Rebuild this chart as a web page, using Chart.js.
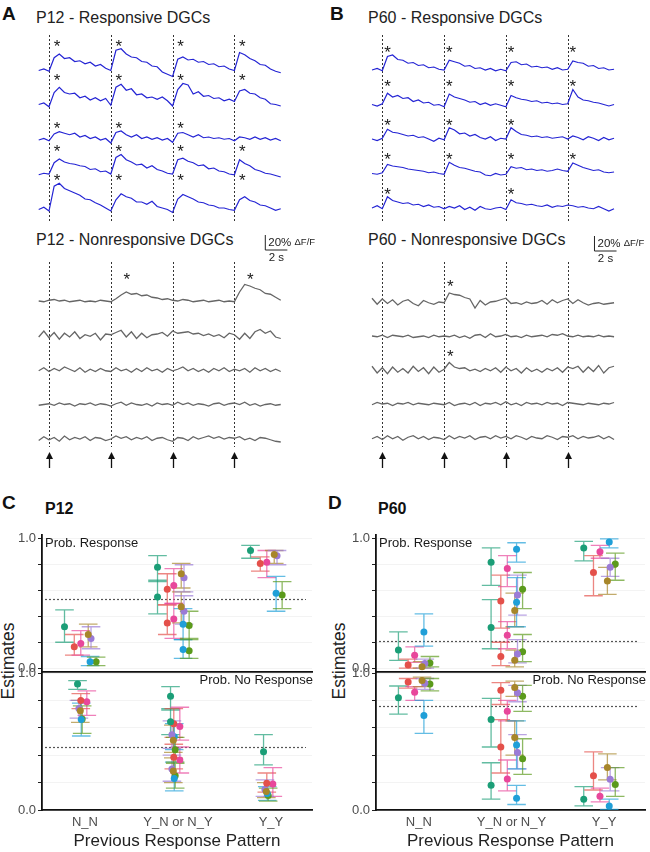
<!DOCTYPE html>
<html>
<head>
<meta charset="utf-8">
<script src="https://cdn.jsdelivr.net/npm/chart.js@4.4.0/dist/chart.umd.min.js"></script>
<style>
  body { margin: 0; background: #fff; font-family: "Liberation Sans", Arial, sans-serif; }
  #fig { position: relative; width: 650px; height: 852px; overflow: hidden; }
  canvas, .t { position: absolute; }
  .t { line-height: 1; white-space: nowrap; color: #222; }
  .lab { font-weight: bold; font-size: 19px; color: #111; }
  .ttl { font-size: 16px; }
  .sub { font-weight: bold; font-size: 16px; color: #111; }
  .ylab { font-size: 17.5px; transform: translate(-50%, -50%) rotate(-90deg); }
</style>
</head>
<body>
<div id="fig">
  <div class="t lab" style="left:2px;top:4px">A</div>
  <div class="t ttl" style="left:36px;top:10px">P12 - Responsive DGCs</div>
  <div class="t lab" style="left:330px;top:4px">B</div>
  <div class="t ttl" style="left:368px;top:10px">P60 - Responsive DGCs</div>
  <div class="t ttl" style="left:36px;top:232px">P12 - Nonresponsive DGCs</div>
  <div class="t ttl" style="left:368px;top:232px">P60 - Nonresponsive DGCs</div>
  <div class="t lab" style="left:2px;top:493px">C</div>
  <div class="t sub" style="left:45px;top:501px">P12</div>
  <div class="t lab" style="left:328px;top:493px">D</div>
  <div class="t sub" style="left:378px;top:501px">P60</div>
  <div class="t ylab" style="left:9px;top:661px">Estimates</div>
  <div class="t ylab" style="left:340px;top:661px">Estimates</div>

  <canvas id="p12Resp" width="262" height="200" style="left:30px;top:28px"></canvas>
  <canvas id="p60Resp" width="262" height="200" style="left:360px;top:28px"></canvas>
  <canvas id="p12Non" width="290" height="250" style="left:30px;top:228px"></canvas>
  <canvas id="p60Non" width="290" height="250" style="left:360px;top:228px"></canvas>

  <canvas id="cUp" width="318" height="161" style="left:0px;top:523px"></canvas>
  <canvas id="cLow" width="318" height="191" style="left:0px;top:661px"></canvas>
  <canvas id="dUp" width="316" height="161" style="left:334px;top:523px"></canvas>
  <canvas id="dLow" width="316" height="191" style="left:334px;top:661px"></canvas>
</div>

<script>
// ---- calcium traces (% dF/F, one value per imaging frame) ----
const stimFrames = [2, 14, 26, 38];
const frameSec = 0.467;

const p12Responsive = [
  [0,2,-1,17,22,16,17,12,13,9,11,6,8,3, 0,27,29,22,18,17,12,11,6,5,-2,-5, -8,15,18,14,15,11,12,8,9,5,6,2, 0,24,21,16,13,8,7,2,-1,-3],
  [1,3,-2,17,24,17,15,16,10,12,7,10,6,9, 0,24,28,20,22,14,15,10,11,8,11,6, -1,21,29,27,15,18,12,13,9,10,6,8, 5,19,21,16,15,10,8,2,1,-1],
  [0,2,-1,8,11,9,7,9,4,6,2,4,0,2, -4,10,12,7,4,7,2,4,1,3,0,2, -3,9,10,7,4,7,3,4,2,3,1,2, -1,4,3,1,4,1,3,0,2,-1],
  [0,2,1,16,21,17,15,14,12,11,7,8,4,5, 1,23,27,20,17,13,14,9,12,7,5,2, 1,20,22,18,16,12,13,8,9,5,4,1, 0,20,15,12,7,5,2,1,-1,-3],
  [0,3,-2,31,35,28,25,22,19,14,13,9,6,2, -2,13,21,17,15,10,10,7,11,4,2,0, -4,14,20,17,14,10,9,6,5,2,2,0, -1,13,17,12,10,6,5,2,-1,1]
];
const p60Responsive = [
  [0,2,-1,18,20,14,13,9,10,6,7,3,4,1, 0,13,11,9,5,6,2,3,0,2,-1,1, -1,10,11,7,8,4,5,3,4,1,3,0, 1,12,10,9,5,6,2,3,0,1],
  [0,-2,1,15,10,12,8,9,4,6,2,3,-1,0, -3,14,10,8,6,3,4,0,2,-1,1,-1, -3,12,9,7,6,4,5,2,3,1,2,0, 1,20,10,6,5,3,2,0,-2,0],
  [0,-2,1,13,9,8,6,4,5,2,3,0,-3,1, -1,15,12,7,8,4,6,2,0,3,-2,1, 0,15,10,6,5,3,4,2,3,1,2,3, 0,4,2,-1,3,1,-2,2,-1,1],
  [0,-1,1,12,10,9,8,6,5,4,3,1,2,0, -1,15,11,8,7,5,3,2,-2,-3,0,-2, -1,9,7,8,5,6,4,5,3,4,6,4, 3,14,11,8,6,4,5,2,1,2],
  [0,3,-1,15,10,8,6,7,4,5,2,4,1,2, -1,2,0,3,-2,1,-3,2,-1,-2,0,1, -2,11,7,6,4,5,3,2,4,1,3,2, 4,3,1,2,0,-1,2,-1,-4,-1]
];
const p12Nonresponsive = [
  [0,-1,1,2,0,1,-1,0,1,-1,0,-1,1,0, -1,3,8,12,9,10,7,8,5,4,2,3, 1,0,2,1,-1,0,1,-1,0,1,-1,0, -1,12,22,20,17,15,10,9,5,1],
  [-2,6,-3,4,-5,3,-2,5,-4,1,-1,3,-6,2, 1,4,7,-2,5,-4,3,-3,1,2,4,-1, 6,3,4,5,2,3,0,2,-1,1,-3,3, 1,-5,3,-4,5,8,3,6,-2,-4],
  [-1,3,-2,2,-1,4,1,-2,3,-3,1,-2,2,-1, -2,3,-1,1,-3,2,-2,3,-1,1,-3,2, -1,1,4,-1,2,-2,1,-3,2,-1,3,-2, 1,-1,2,-3,3,-1,2,-2,1,-2],
  [-1,0,1,-1,2,0,1,-2,1,0,2,-1,1,0, -2,1,3,-1,2,0,-1,1,-2,2,0,1, -1,3,0,2,-1,1,0,-2,1,2,-1,1, 2,0,3,-1,1,-2,0,1,-1,0],
  [-2,3,-1,2,-3,4,-1,2,0,3,-2,2,1,-2, 0,4,1,3,-1,2,0,3,-2,1,2,-1, -3,2,1,-2,3,0,2,4,1,3,0,2, 1,3,-1,1,-2,2,1,-1,-3,-4]
];
const p60Nonresponsive = [
  [5,-3,4,-2,3,-4,1,3,-2,-5,2,-1,-3,0, -1,12,10,9,6,4,-8,2,-4,0,1,3, 5,-2,-1,-3,0,-2,-1,2,-3,3,-1,2, 4,-2,3,-1,-4,-2,-1,-3,-2,-1],
  [0,-1,1,-2,1,0,-1,1,-2,-1,0,-2,1,-1, 0,-1,1,-2,0,-3,1,2,-2,3,-1,0, 2,-1,0,-2,1,-1,0,1,-1,2,1,3, 0,-1,1,-1,0,-1,1,-1,0,-1],
  [5,-4,3,-5,4,-3,2,-4,5,-2,3,-5,4,-3, 1,10,4,2,3,-1,1,-2,2,-1,3,-3, 4,-1,2,-4,3,-2,1,-3,2,-1,3,-3, 4,2,5,-3,4,-2,6,-4,3,5],
  [-1,2,0,1,-2,1,0,2,-1,1,0,-1,1,0, -1,2,-2,0,1,-1,2,-2,1,0,2,-1, 3,-1,1,-2,2,0,1,-1,2,0,1,-2, 2,1,0,-1,1,0,-1,1,0,2],
  [-1,2,-2,3,-1,2,-3,1,3,-1,2,-2,1,0, -2,3,-1,2,0,3,-2,1,2,-1,3,0, 2,-1,3,1,-2,2,0,-1,3,1,-2,2, 1,3,-1,2,0,1,3,-1,2,-2]
];
// significant response (asterisk) per cell and stimulus
const p12RespHits = [[1,1,1,1],[1,1,1,1],[1,1,1,0],[1,1,1,1],[1,1,1,1]];
const p60RespHits = [[1,1,1,1],[1,1,1,1],[1,1,1,0],[1,1,1,1],[1,0,1,0]];
const p12NonHits = [[0,1,0,1],[0,0,0,0],[0,0,0,0],[0,0,0,0],[0,0,0,0]];
const p60NonHits = [[0,1,0,0],[0,0,0,0],[0,1,0,0],[0,0,0,0],[0,0,0,0]];

// ---- model estimates: [pattern, cell, estimate, lower, upper] ----
const groupLabels = ['N_N', 'Y_N or N_Y', 'Y_Y'];
const cellColors = ['#1b9e77', '#e4504a', '#e8479b', '#a7862a', '#9b7bd6', '#1f9fd8', '#5b9a1c'];
const p12Response = [
  [0,0,0.32,0.20,0.45],[0,1,0.165,0.10,0.26],[0,2,0.19,0.10,0.29],[0,3,0.26,0.165,0.34],
  [0,4,0.23,0.15,0.32],[0,5,0.05,0.02,0.09],[0,6,0.05,0.02,0.085],
  [1,0,0.78,0.67,0.87],[1,0,0.55,0.42,0.68],[1,1,0.61,0.49,0.73],[1,1,0.35,0.26,0.49],
  [1,2,0.64,0.50,0.77],[1,2,0.38,0.23,0.50],[1,3,0.73,0.62,0.81],[1,3,0.475,0.35,0.59],
  [1,4,0.70,0.59,0.80],[1,4,0.44,0.34,0.56],[1,5,0.34,0.22,0.46],[1,5,0.145,0.075,0.22],
  [1,6,0.33,0.22,0.44],[1,6,0.135,0.075,0.23],
  [2,0,0.91,0.85,0.95],[2,1,0.81,0.75,0.86],[2,2,0.82,0.70,0.91],[2,3,0.88,0.81,0.91],
  [2,4,0.87,0.80,0.91],[2,5,0.58,0.44,0.71],[2,6,0.565,0.46,0.67]
];
const p12NoResponse = [
  [0,0,0.92,0.88,0.945],[0,1,0.80,0.74,0.85],[0,2,0.79,0.69,0.87],[0,3,0.725,0.64,0.80],
  [0,4,0.74,0.67,0.80],[0,5,0.66,0.54,0.78],[0,6,0.665,0.56,0.76],
  [1,0,0.83,0.73,0.90],[1,0,0.645,0.55,0.74],[1,1,0.63,0.53,0.74],[1,1,0.385,0.30,0.48],
  [1,2,0.61,0.51,0.75],[1,2,0.365,0.27,0.46],[1,3,0.51,0.42,0.62],[1,3,0.285,0.20,0.38],
  [1,4,0.55,0.45,0.65],[1,4,0.30,0.21,0.40],[1,5,0.535,0.44,0.63],[1,5,0.23,0.14,0.35],
  [1,6,0.44,0.35,0.53],[1,6,0.25,0.16,0.34],
  [2,0,0.425,0.33,0.55],[2,1,0.195,0.13,0.27],[2,2,0.19,0.10,0.31],[2,3,0.135,0.09,0.20],
  [2,4,0.15,0.10,0.22],[2,5,0.12,0.07,0.17],[2,6,0.105,0.065,0.16]
];
const p60Response = [
  [0,0,0.14,0.06,0.28],[0,1,0.025,0.0,0.07],[0,2,0.10,0.045,0.165],[0,3,0.01,0.0,0.05],
  [0,4,0.035,0.0,0.07],[0,5,0.28,0.17,0.42],[0,6,0.04,0.01,0.09],
  [1,0,0.82,0.64,0.93],[1,0,0.315,0.15,0.53],[1,1,0.52,0.31,0.72],[1,1,0.09,0.02,0.20],
  [1,2,0.77,0.63,0.87],[1,2,0.255,0.15,0.36],[1,3,0.445,0.32,0.58],[1,3,0.06,0.01,0.14],
  [1,4,0.565,0.41,0.72],[1,4,0.11,0.04,0.22],[1,5,0.92,0.82,0.97],[1,5,0.51,0.32,0.70],
  [1,6,0.61,0.46,0.74],[1,6,0.127,0.05,0.26],
  [2,0,0.93,0.83,0.98],[2,1,0.74,0.56,0.87],[2,2,0.90,0.85,0.95],[2,3,0.675,0.57,0.78],
  [2,4,0.78,0.71,0.85],[2,5,0.975,0.93,1.0],[2,6,0.805,0.68,0.89]
];
const p60NoResponse = [
  [0,0,0.82,0.70,0.905],[0,1,0.935,0.89,0.96],[0,2,0.86,0.80,0.90],[0,3,0.945,0.90,0.97],
  [0,4,0.925,0.88,0.96],[0,5,0.69,0.56,0.80],[0,6,0.92,0.87,0.96],
  [1,0,0.66,0.46,0.815],[1,0,0.18,0.08,0.345],[1,1,0.875,0.77,0.93],[1,1,0.46,0.27,0.66],
  [1,2,0.72,0.65,0.80],[1,2,0.226,0.14,0.365],[1,3,0.895,0.83,0.94],[1,3,0.53,0.40,0.65],
  [1,4,0.855,0.79,0.91],[1,4,0.42,0.30,0.55],[1,5,0.475,0.30,0.65],[1,5,0.085,0.04,0.18],
  [1,6,0.83,0.72,0.91],[1,6,0.375,0.26,0.52],
  [2,0,0.078,0.03,0.17],[2,1,0.25,0.146,0.425],[2,2,0.10,0.06,0.16],[2,3,0.31,0.22,0.41],
  [2,4,0.224,0.14,0.31],[2,5,0.03,0.005,0.08],[2,6,0.187,0.10,0.31]
];
const p12Chance = [0.535, 0.46];
const p60Chance = [0.21, 0.76];

// ---- layout ----
const pxPerFrame = 5.15;
const pxPerPct = 0.75;          // 20 % dF/F bar = 15 px
const dodgeWide = [-0.22, -0.115, -0.045, 0.035, 0.065, 0.055, 0.12];
const dodgeNarrow = [-0.08, -0.045, 0.02, -0.05, -0.065, -0.04, -0.03];
const capHalf = 0.1;
const FONT = '"Liberation Sans", Arial, sans-serif';
Chart.defaults.font.family = FONT;

function traceMarks(o) {
    return {
        id: 'traceMarks',
        beforeDatasetsDraw(chart) {
            const {ctx, chartArea: a, scales: {x}} = chart;
            ctx.save();
            ctx.strokeStyle = '#333';
            ctx.lineWidth = 1;
            ctx.setLineDash([2, 2]);
            stimFrames.forEach(s => {
                const px = Math.round(x.getPixelForValue(s)) + 0.5;
                ctx.beginPath();
                ctx.moveTo(px, a.top + o.dashTop);
                ctx.lineTo(px, a.top + o.dashBottom);
                ctx.stroke();
            });
            ctx.restore();
        },
        afterDatasetsDraw(chart) {
            const {ctx, chartArea: a, scales: {x, y}} = chart;
            ctx.save();
            // asterisks above responding traces
            ctx.fillStyle = '#1a1a1a';
            ctx.font = '17px ' + FONT;
            ctx.textAlign = 'center';
            ctx.textBaseline = 'alphabetic';
            o.hits.forEach((row, r) => {
                const top = Math.max(...o.rows[r]) + o.starGap - r * o.gap;
                row.forEach((h, k) => {
                    if (!h) return;
                    ctx.fillText('*', x.getPixelForValue(stimFrames[k] + o.starShift), y.getPixelForValue(top) + 9.7);
                });
            });
            // stimulus arrows
            if (o.arrows) {
                ctx.strokeStyle = '#111';
                ctx.fillStyle = '#111';
                ctx.lineWidth = 1.3;
                stimFrames.forEach(s => {
                    const px = Math.round(x.getPixelForValue(s)) + 0.5;
                    const tip = a.top + o.arrows[0], end = a.top + o.arrows[1];
                    ctx.beginPath();
                    ctx.moveTo(px, end);
                    ctx.lineTo(px, tip + 4);
                    ctx.stroke();
                    ctx.beginPath();
                    ctx.moveTo(px, tip);
                    ctx.lineTo(px - 3.5, tip + 7);
                    ctx.lineTo(px + 3.5, tip + 7);
                    ctx.closePath();
                    ctx.fill();
                });
            }
            // scale bar: 20 % dF/F and 2 s
            if (o.scaleBar) {
                const [f0, p0] = o.scaleBar;
                const x0 = x.getPixelForValue(f0), x1 = x.getPixelForValue(f0 + 2 / frameSec);
                const yb = y.getPixelForValue(p0), yt = y.getPixelForValue(p0 + 20);
                ctx.strokeStyle = '#222';
                ctx.lineWidth = 1;
                ctx.beginPath();
                ctx.moveTo(x0, yt);
                ctx.lineTo(x0, yb);
                ctx.lineTo(x1, yb);
                ctx.stroke();
                ctx.fillStyle = '#222';
                ctx.textAlign = 'left';
                ctx.textBaseline = 'middle';
                ctx.font = '11.5px ' + FONT;
                ctx.fillText('20%', x0 + 3, (yt + yb) / 2);
                const w = ctx.measureText('20% ').width;
                ctx.font = '9.5px ' + FONT;
                ctx.fillText('\u0394F/F', x0 + 3 + w, (yt + yb) / 2);
                ctx.font = '11.5px ' + FONT;
                ctx.textAlign = 'center';
                ctx.fillText('2 s', (x0 + x1) / 2, yb + 8);
            }
            ctx.restore();
        }
    };
}

function traceChart(id, rows, o) {
    const cv = document.getElementById(id);
    const gap = o.gapPx / pxPerPct;
    const xmin = stimFrames[0] - o.stimPx / pxPerFrame;
    const ymax = o.basePx / pxPerPct;
    const datasets = rows.map((row, r) => ({
        data: row.map((v, i) => ({x: i, y: v - r * gap})),
        borderColor: o.color,
        borderWidth: o.width,
        pointRadius: 0,
        tension: 0
    }));
    return new Chart(cv, {
        type: 'line',
        data: {datasets},
        options: {
            responsive: false,
            animation: false,
            devicePixelRatio: 1,
            layout: {padding: 0},
            plugins: {legend: {display: false}, tooltip: {enabled: false}},
            scales: {
                x: {type: 'linear', display: false, min: xmin, max: xmin + cv.width / pxPerFrame},
                y: {type: 'linear', display: false, min: ymax - cv.height / pxPerPct, max: ymax}
            }
        },
        plugins: [traceMarks({...o, rows, gap})]
    });
}

traceChart('p12Resp', p12Responsive, {
    color: '#2424d4', width: 1.2, stimPx: 19, basePx: 42.5, gapPx: 34.75,
    dashTop: 7, dashBottom: 194, hits: p12RespHits, starShift: 1.55, starGap: 9
});
traceChart('p60Resp', p60Responsive, {
    color: '#2424d4', width: 1.2, stimPx: 22.3, basePx: 42, gapPx: 34.5,
    dashTop: 7, dashBottom: 194, hits: p60RespHits, starShift: 1.0, starGap: 9
});
traceChart('p12Non', p12Nonresponsive, {
    color: '#666666', width: 1.3, stimPx: 19, basePx: 73, gapPx: 34.5,
    dashTop: 34, dashBottom: 219, hits: p12NonHits, starShift: 3.1, starGap: 12,
    arrows: [224, 240], scaleBar: [44, 68]
});
traceChart('p60Non', p60Nonresponsive, {
    color: '#666666', width: 1.3, stimPx: 22.3, basePx: 74, gapPx: 34,
    dashTop: 34, dashBottom: 219, hits: p60NonHits, starShift: 1.2, starGap: 14,
    arrows: [224, 240], scaleBar: [43.2, 68]
});

function estimateMarks(o) {
    return {
        id: 'estimateMarks',
        beforeDatasetsDraw(chart) {
            const {ctx, chartArea: a, scales: {x, y}} = chart;
            ctx.save();
            // chance level
            ctx.setLineDash([2, 2]);
            ctx.strokeStyle = '#555';
            ctx.lineWidth = 1.2;
            const cy = Math.round(y.getPixelForValue(o.chance)) + 0.5;
            ctx.beginPath();
            ctx.moveTo(a.left + 3, cy);
            ctx.lineTo(a.right - 6, cy);
            ctx.stroke();
            ctx.setLineDash([]);
            // error bars
            ctx.lineWidth = 1.3;
            chart.data.datasets.forEach(ds => {
                ctx.strokeStyle = ds.borderColor + 'b0';
                ds.data.forEach(d => {
                    const px = x.getPixelForValue(d.x);
                    const c0 = x.getPixelForValue(d.x - capHalf), c1 = x.getPixelForValue(d.x + capHalf);
                    const lo = y.getPixelForValue(d.lo), hi = y.getPixelForValue(d.hi);
                    ctx.beginPath();
                    ctx.moveTo(px, lo); ctx.lineTo(px, hi);
                    ctx.moveTo(c0, lo); ctx.lineTo(c1, lo);
                    ctx.moveTo(c0, hi); ctx.lineTo(c1, hi);
                    ctx.stroke();
                });
            });
            // facet label
            ctx.fillStyle = '#1a1a1a';
            ctx.font = '13px ' + FONT;
            ctx.textBaseline = 'middle';
            ctx.textAlign = o.facetAlign;
            ctx.fillText(o.facet, o.facetAlign === 'left' ? a.left + 3 : a.right + 1, a.top + o.facetDy);
            ctx.restore();
        }
    };
}

function estimateChart(id, rows, o) {
    const datasets = cellColors.map((c, k) => ({
        data: rows.filter(r => r[1] === k).map(r => ({x: r[0] + 1 + o.dodge[k], y: r[2], lo: r[3], hi: r[4]})),
        backgroundColor: c,
        borderColor: c,
        pointRadius: 3.5,
        pointBorderWidth: 0
    }));
    return new Chart(document.getElementById(id), {
        type: 'scatter',
        data: {datasets},
        options: {
            responsive: false,
            animation: false,
            devicePixelRatio: 1,
            layout: {padding: o.padding},
            plugins: {legend: {display: false}, tooltip: {enabled: false}},
            scales: {
                x: {
                    type: 'linear', min: 0.538, max: 3.441,
                    afterBuildTicks: s => { s.ticks = [1, 2, 3].map(v => ({value: v})); },
                    afterFit: s => { s.height = o.xHeight; },
                    ticks: {
                        display: o.showX, autoSkip: false, maxRotation: 0, padding: 5,
                        color: '#4d4d4d', font: {size: 13},
                        callback: v => groupLabels[v - 1]
                    },
                    grid: {display: false, drawTicks: false},
                    border: {display: true, color: '#111', width: 1.8},
                    title: {
                        display: o.showX, text: 'Previous Response Pattern',
                        color: '#222', font: {size: 17}, padding: {top: 0, bottom: 0}
                    }
                },
                y: {
                    type: 'linear', min: o.ymin, max: o.ymax,
                    afterBuildTicks: s => { s.ticks = [0, 0.2, 0.4, 0.6, 0.8, 1].map(v => ({value: v})); },
                    afterFit: s => { s.width = 42; },
                    ticks: {
                        color: '#4d4d4d', font: {size: 13}, padding: 2,
                        callback: v => (v === 0 || v === 1) ? v.toFixed(1) : ''
                    },
                    grid: {color: '#f3f3f3', tickColor: '#222', tickLength: 4},
                    border: {display: true, color: '#111', width: 1.8}
                }
            }
        },
        plugins: [estimateMarks(o)]
    });
}

const upperOpts = {ymin: -0.03, ymax: 1.03, padding: {top: 12, right: 6, bottom: 12, left: 0},
    xHeight: 0, showX: false, facet: 'Prob. Response', facetAlign: 'left', facetDy: 8};
const lowerOpts = {ymin: 0, ymax: 1, padding: {top: 12, right: 6, bottom: 0, left: 0},
    xHeight: 42, showX: true, facet: 'Prob. No Response', facetAlign: 'right', facetDy: 7};

estimateChart('cUp', p12Response, {...upperOpts, dodge: dodgeWide, chance: p12Chance[0]});
estimateChart('cLow', p12NoResponse, {...lowerOpts, dodge: dodgeNarrow, chance: p12Chance[1]});
estimateChart('dUp', p60Response, {...upperOpts, padding: {top: 12, right: 5, bottom: 12, left: 0}, dodge: dodgeWide, chance: p60Chance[0]});
estimateChart('dLow', p60NoResponse, {...lowerOpts, padding: {top: 12, right: 5, bottom: 0, left: 0}, dodge: dodgeWide, chance: p60Chance[1]});
</script>
</body>
</html>
